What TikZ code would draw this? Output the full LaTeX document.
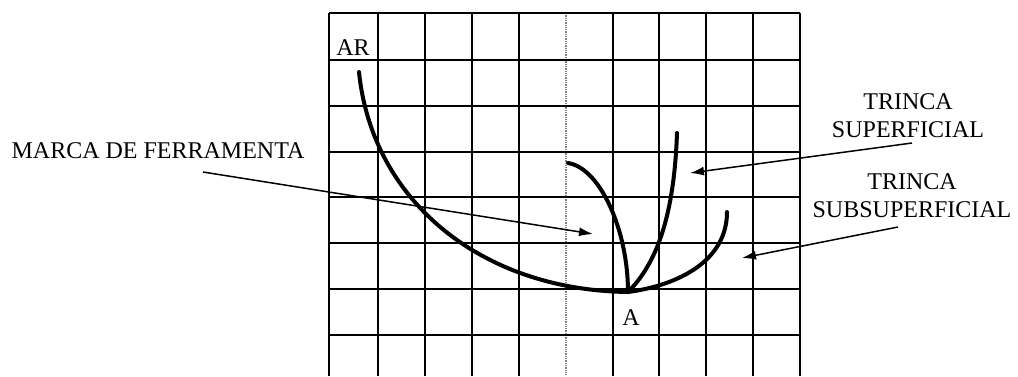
\documentclass[tikz,border=0pt]{standalone}
\usepackage{fontspec}
\setmainfont{Liberation Serif}
\usetikzlibrary{arrows.meta}
\newcommand\lbl{\fontsize{24}{28}\selectfont}

\begin{document}
\begin{tikzpicture}[x=1pt,y=-1pt,
  gridline/.style={black, line width=1.3pt},
  trinca/.style={black, line width=4pt, line cap=round},
  seta/.style={-{Latex[length=14pt,width=9pt]}, line width=1.5pt},
  rotulo/.style={inner sep=0pt, font=\lbl, align=center}]

   \useasboundingbox (0,0) rectangle (1018,376);

   % grid
   \foreach \x in {329,378,425,472,519,613,659,706,753,800}
     \draw[gridline] (\x,13) -- (\x,376);
   \draw[densely dotted, gray, line width=1.3pt] (566,13) -- (566,376);
   \foreach \y in {13,60,106,152,197,243,289,335}
     \draw[gridline] (329,\y) -- (800,\y);

   % curves
   \draw[trinca] (359,72) .. controls (372,200) and (480,290) .. (628,292);
   \draw[trinca] (568,163) .. controls (600,168) and (628,230) .. (628,292);
   \draw[trinca] (677,133) .. controls (674,220) and (655,265) .. (628,292);
   \draw[trinca] (727,212) .. controls (727,260) and (680,285) .. (628,292);

   \node[rotulo] (ar) at (353,48) {AR};
   \node[rotulo] (pa) at (631,318) {A};
   \node[rotulo] (marca) at (158,151) {MARCA DE FERRAMENTA};
   \node[rotulo] (sup) at (908,116) {TRINCA\\SUPERFICIAL};
   \node[rotulo] (sub) at (912,196) {TRINCA\\SUBSUPERFICIAL};

   \coordinate (marcaini) at (203,172);
   \coordinate (marcafim) at (593,234);
   \coordinate (supini) at (912,143);
   \coordinate (supfim) at (690,173);
   \coordinate (subini) at (898,227);
   \coordinate (subfim) at (742,258);

   \draw[seta] (marcaini) -- (marcafim);
   \draw[seta] (supini) -- (supfim);
   \draw[seta] (subini) -- (subfim);
\end{tikzpicture}
\end{document}
